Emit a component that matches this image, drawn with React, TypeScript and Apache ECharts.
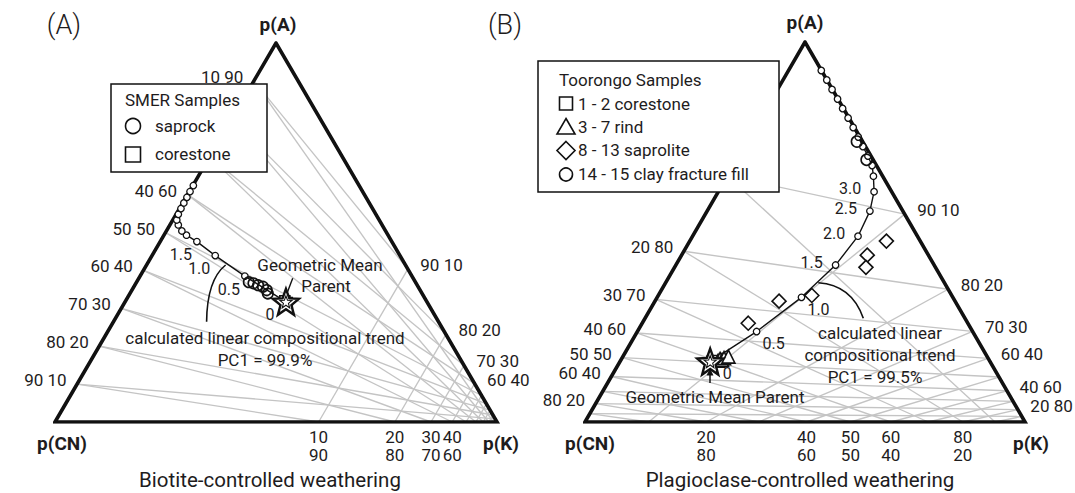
import React, { useEffect, useRef } from "react";
import * as echarts from "echarts";

// ---------- grid definition (perturbed ternary grids) ----------
const GRID_STEPS = [10, 20, 30, 40, 50, 60, 70, 80, 90];
// perturbation weights [A, CN, K] applied to each ternary grid
const LEFT_WEIGHTS = [1, 1, 13.3];
const RIGHT_WEIGHTS = [0.204, 1, 1.52];

// labelled edge ticks (percent values)
const LEFT_SIDE_TICKS_A = [90, 60, 50, 40, 30, 20, 10];
const LEFT_RIGHT_TICKS_A = [90, 80, 70, 60];
const LEFT_BOTTOM_TICKS_K = [10, 20, 30, 40];
const RIGHT_SIDE_TICKS_A = [80, 70, 60, 50, 40, 20];
const RIGHT_RIGHT_TICKS_A = [90, 80, 70, 60, 40, 20];
const RIGHT_BOTTOM_TICKS_K = [20, 40, 50, 60, 80];

// ---------- data: plotted ternary positions [p(A) %, p(K) %] ----------
// (A) Biotite-controlled weathering, SMER
const A_PARENT = [[31.7, 36.4]];
const A_CORESTONE = [[31.5, 36.8], [32.0, 36.0]];
const A_SAPROCK = [
  [36.9, 25.4], [36.6, 26.6], [36.1, 27.9], [35.7, 29.2], [34.8, 30.5], [33.9, 31.2],
];
const A_TREND = [
  [31.7, 36.4], [38.5, 23.7], [43.9, 14.3], [47.6, 8.3], [49.3, 5.1], [50.4, 3.5],
  [52.0, 1.9], [53.3, 0.9], [54.8, 0.5], [56.3, 0.35], [57.8, 0.25], [59.3, 0.2],
  [60.8, 0.15], [62.4, 0.1],
];
const A_TREND_LABELS = ["0", "0.5", "1.0", "1.5"];

// (B) Plagioclase-controlled weathering, Toorongo
const B_PARENT = [[15.9, 20.5]];
const B_CORESTONE = [[16.0, 20.8], [16.2, 21.3]];
const B_RIND = [[16.1, 22.2], [16.6, 22.4], [16.3, 23.0], [16.8, 23.2], [17.2, 24.0]];
const B_SAPROLITE = [
  [47.6, 44.7], [43.9, 42.2], [40.7, 43.5], [33.3, 34.9], [31.8, 28.2], [26.0, 24.1],
];
const B_CLAY = [[73.8, 24.9], [69.0, 29.5]];
const B_TREND = [
  [15.9, 20.5], [23.8, 27.1], [32.8, 32.8], [41.3, 36.3], [48.9, 37.6], [55.5, 37.0],
  [60.6, 35.4], [64.7, 33.2], [67.5, 31.5], [70.0, 29.3], [72.5, 26.9], [75.0, 24.6],
  [77.5, 22.2], [80.0, 19.8], [82.5, 17.3], [85.0, 14.9], [87.5, 12.4], [90.0, 9.95],
  [92.5, 7.45],
];
const B_TREND_LABELS_LOW = ["0", "0.5", "1.0"];
const B_TREND_LABELS_HIGH = ["1.5", "2.0", "2.5", "3.0"];

// ---------- helpers ----------
const FONT = "Roboto, 'Noto Sans', sans-serif";
const TXT = "#1e1c1d";
const GRIDC = "#c4c4c4";

const toXY = (p: number[]) => [p[1] / 100 + p[0] / 200, p[0] / 100];

function perturb(comp: number[], w: number[]) {
  const v = comp.map((c, i) => c * w[i]);
  const s = v[0] + v[1] + v[2];
  const a = v[0] / s;
  const k = v[2] / s;
  return [k + a / 2, a];
}

function gridLines(w: number[]) {
  const out: any[] = [];
  GRID_STEPS.forEach((v) => {
    const f = v / 100;
    out.push({ coords: [perturb([f, 1 - f, 0], w), perturb([f, 0, 1 - f], w)] });
    out.push({ coords: [perturb([1 - f, f, 0], w), perturb([0, f, 1 - f], w)] });
    out.push({ coords: [perturb([0, 1 - f, f], w), perturb([1 - f, 0, f], w)] });
  });
  return out;
}

const STAR =
  "path://M10 0 L12.47 6.6 L19.51 6.91 L13.99 11.3 L15.88 18.09 L10 14.2 L4.12 18.09 L6.01 11.3 L0.49 6.91 L7.53 6.6 Z";

function labelSeries(gi: number, data: any[], label: any) {
  return {
    type: "scatter",
    xAxisIndex: gi,
    yAxisIndex: gi,
    silent: true,
    symbolSize: 1,
    itemStyle: { color: "rgba(0,0,0,0)", opacity: 1 },
    z: 9,
    data,
    label: {
      show: true,
      formatter: (p: any) => p.value[2],
      color: TXT,
      opacity: 1,
      fontSize: 17,
      fontFamily: FONT,
      ...label,
    },
  };
}

function plotSeries(
  gi: number,
  w: number[],
  sideTicks: number[],
  rightTicks: number[],
  bottomTicks: number[],
  trend: number[][],
  parent: number[][]
) {
  const list: any[] = [];
  list.push({
    type: "lines",
    coordinateSystem: "cartesian2d",
    xAxisIndex: gi,
    yAxisIndex: gi,
    silent: true,
    z: 1,
    lineStyle: { color: GRIDC, width: 1.35, opacity: 1 },
    data: gridLines(w),
  });
  list.push({
    type: "line",
    xAxisIndex: gi,
    yAxisIndex: gi,
    silent: true,
    z: 3,
    showSymbol: false,
    lineStyle: { color: "#111", width: 3.6, join: "miter" },
    data: [[0, 0], [1, 0], [0.5, 1], [0, 0], [1, 0]],
  });
  list.push({
    type: "line",
    xAxisIndex: gi,
    yAxisIndex: gi,
    silent: true,
    z: 4,
    showSymbol: false,
    lineStyle: { color: "#111", width: 1.4 },
    data: trend.map(toXY),
  });
  list.push({
    type: "scatter",
    xAxisIndex: gi,
    yAxisIndex: gi,
    silent: true,
    z: 5,
    symbol: "circle",
    symbolSize: 6.5,
    itemStyle: { color: "#fff", borderColor: "#111", borderWidth: 1.3, opacity: 1 },
    data: trend.slice(1).map(toXY),
  });
  list.push({
    type: "scatter",
    xAxisIndex: gi,
    yAxisIndex: gi,
    silent: true,
    z: 8,
    symbol: STAR,
    symbolSize: 26,
    itemStyle: { color: "#fff", borderColor: "#111", borderWidth: 2.4, opacity: 1 },
    data: parent.map(toXY),
  });
  list.push({
    type: "scatter",
    xAxisIndex: gi,
    yAxisIndex: gi,
    silent: true,
    z: 8,
    symbol: STAR,
    symbolSize: 12,
    itemStyle: { color: "#fff", borderColor: "#111", borderWidth: 1.1, opacity: 1 },
    data: parent.map(toXY),
  });
  list.push(
    labelSeries(
      gi,
      sideTicks.map((a) => [...perturb([a, 100 - a, 0], w), `${100 - a} ${a}`]),
      { position: "left", distance: 10, offset: [0, -4] }
    )
  );
  list.push(
    labelSeries(
      gi,
      rightTicks.map((a) => [...perturb([a, 0, 100 - a], w), `${a} ${100 - a}`]),
      { position: "right", distance: 12, offset: [0, -4] }
    )
  );
  list.push(
    labelSeries(
      gi,
      bottomTicks.map((k) => [...perturb([0, 100 - k, k], w), `${k}\n${100 - k}`]),
      { position: "bottom", distance: 5, lineHeight: 18, align: "center" }
    )
  );
  return list;
}

function sampleSeries(gi: number, data: number[][], symbol: string, size: number, fill: string, z = 6) {
  return {
    type: "scatter",
    xAxisIndex: gi,
    yAxisIndex: gi,
    silent: true,
    z,
    symbol,
    symbolSize: size,
    itemStyle: { color: fill, borderColor: "#111", borderWidth: 1.6, opacity: 1 },
    data: data.map(toXY),
  };
}

function trendLabels(gi: number, trendPts: number[][], labels: string[], offset: number[]) {
  return labelSeries(
    gi,
    labels.map((t, i) => [...toXY(trendPts[i]), t]),
    { position: "inside", offset, fontSize: 16 }
  );
}

function txt(text: string, x: number, y: number, extra: any = {}) {
  return {
    type: "text",
    x,
    y,
    z: 101,
    silent: true,
    style: {
      text,
      fill: TXT,
      fontSize: 17,
      fontFamily: FONT,
      align: "center",
      verticalAlign: "middle",
      ...extra,
    },
  };
}

const SH = { stroke: "#111", lineWidth: 1.6, fill: "#fff" };

function buildOption() {
  const series: any[] = [
    ...plotSeries(0, LEFT_WEIGHTS, LEFT_SIDE_TICKS_A, LEFT_RIGHT_TICKS_A, LEFT_BOTTOM_TICKS_K, A_TREND, A_PARENT),
    ...plotSeries(1, RIGHT_WEIGHTS, RIGHT_SIDE_TICKS_A, RIGHT_RIGHT_TICKS_A, RIGHT_BOTTOM_TICKS_K, B_TREND, B_PARENT),
    sampleSeries(0, A_CORESTONE, "rect", 10, "#fff", 6),
    sampleSeries(0, A_SAPROCK, "circle", 10.5, "rgba(255,255,255,0)", 6),
    sampleSeries(1, B_CORESTONE, "rect", 10, "#fff", 6),
    sampleSeries(1, B_RIND, "triangle", 13, "#fff", 6),
    sampleSeries(1, B_SAPROLITE, "diamond", 14, "#fff", 6),
    sampleSeries(1, B_CLAY, "circle", 11, "rgba(255,255,255,0)", 6),
    trendLabels(0, A_TREND, A_TREND_LABELS, [-16, 13]),
    trendLabels(1, B_TREND, B_TREND_LABELS_LOW, [17, 12]),
    trendLabels(1, B_TREND.slice(3), B_TREND_LABELS_HIGH, [-24, -3]),
  ];

  const graphic: any[] = [
    // panel letters and vertex names
    txt("(A)", 64, 25, { fontSize: 27, fontWeight: 300 }),
    txt("(B)", 505, 25, { fontSize: 27, fontWeight: 300 }),
    txt("p(A)", 278, 24, { fontSize: 19, fontWeight: "bold" }),
    txt("p(A)", 805, 22, { fontSize: 19, fontWeight: "bold" }),
    txt("p(CN)", 62, 443, { fontSize: 19, fontWeight: "bold" }),
    txt("p(K)", 501, 443, { fontSize: 19, fontWeight: "bold" }),
    txt("p(CN)", 590, 443, { fontSize: 19, fontWeight: "bold" }),
    txt("p(K)", 1031, 443, { fontSize: 19, fontWeight: "bold" }),
    txt("Biotite-controlled weathering", 270, 480, { fontSize: 20.5 }),
    txt("Plagioclase-controlled weathering", 800, 480, { fontSize: 20.5 }),

    // annotations (A)
    txt("Geometric Mean", 320, 265),
    txt("Parent", 326, 286),
    {
      type: "line", z: 101, silent: true,
      shape: { x1: 292.7, y1: 278.3, x2: 287.6, y2: 291.7 },
      style: { stroke: "#111", lineWidth: 1.4 },
    },
    {
      type: "bezierCurve", z: 101, silent: true,
      shape: { x1: 225.6, y1: 265, cpx1: 207, cpy1: 280, x2: 206.6, y2: 321.7 },
      style: { stroke: "#111", lineWidth: 1.6, fill: "none" },
    },
    txt("calculated linear compositional trend", 265, 338),
    txt("PC1 = 99.9%", 265, 360),

    // annotations (B)
    txt("Geometric Mean Parent", 715, 397),
    {
      type: "line", z: 101, silent: true,
      shape: { x1: 710, y1: 383, x2: 710, y2: 374 },
      style: { stroke: "#111", lineWidth: 1.5 },
    },
    {
      type: "polygon", z: 101, silent: true,
      shape: { points: [[710, 368.5], [713.5, 375.5], [706.5, 375.5]] },
      style: { fill: "#111" },
    },
    {
      type: "bezierCurve", z: 101, silent: true,
      shape: { x1: 818.3, y1: 282.7, cpx1: 852, cpy1: 285, x2: 863.3, y2: 318.3 },
      style: { stroke: "#111", lineWidth: 1.6, fill: "none" },
    },
    txt("calculated linear", 880, 333),
    txt("compositional trend", 880, 355),
    txt("PC1 = 99.5%", 875, 377),

    // legend (A)
    {
      type: "rect", z: 100, silent: true,
      shape: { x: 111, y: 84, width: 156, height: 88 },
      style: { fill: "#fff", stroke: "#111", lineWidth: 1.5 },
    },
    txt("SMER Samples", 125, 100, { align: "left" }),
    { type: "circle", z: 101, silent: true, shape: { cx: 133, cy: 126, r: 7.5 }, style: SH },
    txt("saprock", 155, 126, { align: "left" }),
    { type: "rect", z: 101, silent: true, shape: { x: 125.5, y: 147, width: 15, height: 15 }, style: SH },
    txt("corestone", 155, 154, { align: "left" }),

    // legend (B)
    {
      type: "rect", z: 100, silent: true,
      shape: { x: 538, y: 61, width: 241, height: 131 },
      style: { fill: "#fff", stroke: "#111", lineWidth: 1.5 },
    },
    txt("Toorongo Samples", 559, 80, { align: "left" }),
    { type: "rect", z: 101, silent: true, shape: { x: 559.5, y: 97, width: 13, height: 13 }, style: SH },
    txt("1 - 2 corestone", 578, 104, { align: "left" }),
    {
      type: "polygon", z: 101, silent: true,
      shape: { points: [[566, 118.5], [575, 134], [557, 134]] }, style: SH,
    },
    txt("3 - 7 rind", 578, 127, { align: "left" }),
    {
      type: "polygon", z: 101, silent: true,
      shape: { points: [[566, 141.5], [575, 150.5], [566, 159.5], [557, 150.5]] }, style: SH,
    },
    txt("8 - 13 saprolite", 578, 150, { align: "left" }),
    { type: "circle", z: 101, silent: true, shape: { cx: 566, cy: 174.5, r: 6.5 }, style: SH },
    txt("14 - 15 clay fracture fill", 578, 174, { align: "left" }),
  ];

  const axisBase = { type: "value", min: 0, max: 1, show: false };
  return {
    animation: false,
    backgroundColor: "#fff",
    grid: [
      { left: 55, top: 43, width: 442, height: 379 },
      { left: 585, top: 42, width: 440, height: 380 },
    ],
    xAxis: [
      { ...axisBase, gridIndex: 0 },
      { ...axisBase, gridIndex: 1 },
    ],
    yAxis: [
      { ...axisBase, gridIndex: 0 },
      { ...axisBase, gridIndex: 1 },
    ],
    series,
    graphic,
  };
}

export default function App() {
  const ref = useRef<HTMLDivElement>(null);
  useEffect(() => {
    const chart = echarts.init(ref.current!, null, { renderer: "svg" });
    chart.setOption(buildOption() as any);
    return () => chart.dispose();
  }, []);
  return (
    <div
      ref={ref}
      style={{ position: "absolute", left: 0, top: 0, width: 1075, height: 493, background: "#fff" }}
    />
  );
}
